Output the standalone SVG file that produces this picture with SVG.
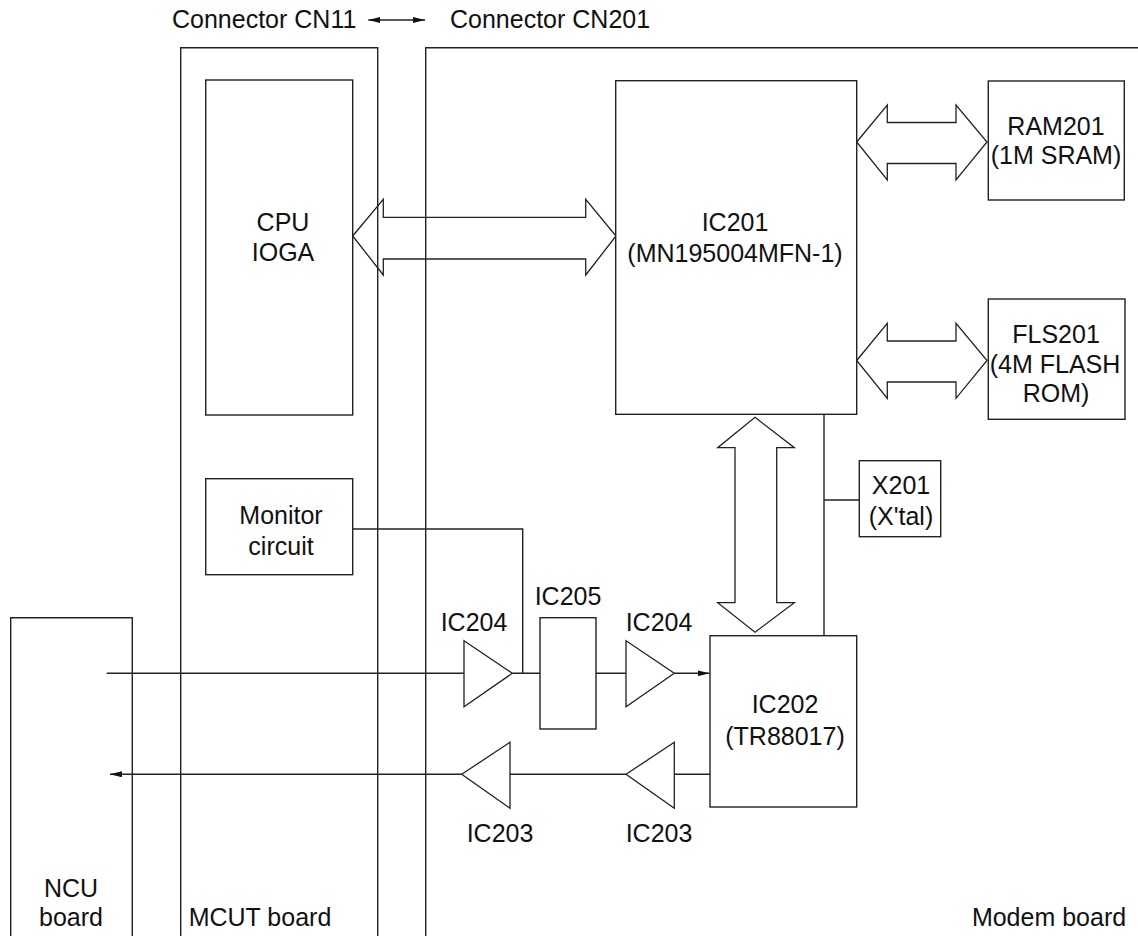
<svg xmlns="http://www.w3.org/2000/svg" width="1138" height="936" viewBox="0 0 1138 936">
<style>
.ln{fill:none;stroke:#222;stroke-width:1.4}
.bx{fill:#fff;stroke:#222;stroke-width:1.4}
.bus{fill:none;stroke:#222;stroke-width:1.3;stroke-linejoin:miter}
.amp{fill:#fff;stroke:#222;stroke-width:1.3}
text{font-family:"Liberation Sans",Arial,sans-serif;font-size:25px;fill:#111;text-anchor:middle}
.l{text-anchor:start}
</style>
<defs>
<marker id="ah" viewBox="0 0 12 6" refX="12" refY="3" markerWidth="12" markerHeight="6" orient="auto-start-reverse" markerUnits="userSpaceOnUse">
<path d="M0,0 L12,3 L0,6 z" fill="#111"/>
</marker>
</defs>
<rect width="1138" height="936" fill="#fff"/>

<g id="header">
<text class="l" x="172" y="28">Connector CN11</text>
<text class="l" x="450" y="28">Connector CN201</text>
</g>

<g id="ncu-board">
<path class="ln" d="M10.7,936 V617.7 H132.3 V936"/>
<text x="71" y="897">NCU</text>
<text x="71" y="926">board</text>
</g>
<g id="mcut-board">
<path class="ln" d="M180.7,936 V47.7 H377.7 V936"/>
<text x="260" y="926">MCUT board</text>
</g>
<g id="modem-board">
<path class="ln" d="M425.7,936 V47.7 H1138"/>
<text x="1049" y="926">Modem board</text>
</g>

<g id="connectors">
<line class="ln" x1="368.3" y1="20" x2="425" y2="20" marker-start="url(#ah)" marker-end="url(#ah)"/>
<polygon class="bus" points="352.7,236 383.3,199.3 383.3,217.3 585.7,217.3 585.7,199.3 616,236 585.7,275 585.7,259 383.3,259 383.3,275"/>
<polygon class="bus" points="856.7,142 887.3,105 887.3,122.5 956,122.5 956,105 987,142 956,180 956,163.5 887.3,163.5 887.3,180"/>
<polygon class="bus" points="856.7,360.5 887.3,323.3 887.3,341 956,341 956,323.3 987,360.5 956,398.3 956,382 887.3,382 887.3,398.3"/>
<polygon class="bus" points="755,417.3 794.3,447.7 776.7,447.7 776.7,602.7 794.3,602.7 755,632.3 717.7,602.7 735,602.7 735,447.7 717.7,447.7"/>
<path class="ln" d="M824,414.3 V635.7 M824,500 H859.3"/>
<path class="ln" d="M352.7,529 H522.7 V673.3"/>
<path class="ln" d="M106.7,673.3 H464 M512.3,673.3 H540 M596,673.3 H626"/>
<line class="ln" x1="674.3" y1="673.3" x2="709.5" y2="673.3" marker-end="url(#ah)"/>
<path class="ln" d="M710,774.3 H674.3 M626,774.3 H510"/>
<line class="ln" x1="461.7" y1="774.3" x2="110" y2="774.3" marker-end="url(#ah)"/>
</g>

<g id="cpu">
<rect class="bx" x="205.7" y="80" width="147" height="335"/>
<text x="283" y="231">CPU</text>
<text x="283" y="261">IOGA</text>
</g>
<g id="monitor">
<rect class="bx" x="205.7" y="478.7" width="147" height="96"/>
<text x="281" y="524">Monitor</text>
<text x="281" y="555">circuit</text>
</g>
<g id="ic201">
<rect class="bx" x="615.7" y="80.7" width="241" height="333.6"/>
<text x="735" y="231">IC201</text>
<text x="735" y="262">(MN195004MFN-1)</text>
</g>
<g id="ram201">
<rect class="bx" x="988.3" y="81" width="136" height="119"/>
<text x="1056" y="135">RAM201</text>
<text x="1056" y="164">(1M SRAM)</text>
</g>
<g id="fls201">
<rect class="bx" x="988.3" y="299" width="136.7" height="120.3"/>
<text x="1056" y="343">FLS201</text>
<text x="1055" y="373">(4M FLASH</text>
<text x="1056" y="402">ROM)</text>
</g>
<g id="x201">
<rect class="bx" x="859.3" y="460.7" width="81.4" height="76"/>
<text x="901" y="494">X201</text>
<text x="901" y="525">(X'tal)</text>
</g>
<g id="ic202">
<rect class="bx" x="710" y="635.7" width="146.7" height="171.3"/>
<text x="785" y="713">IC202</text>
<text x="785" y="745">(TR88017)</text>
</g>
<g id="ic205">
<rect class="bx" x="540" y="617.7" width="56" height="111.3"/>
<text x="568" y="605">IC205</text>
</g>
<g id="ic204a">
<polygon class="amp" points="464,640.7 512.3,673.3 464,706.7"/>
<text x="474" y="631">IC204</text>
</g>
<g id="ic204b">
<polygon class="amp" points="626,640.7 674.3,673.3 626,706.7"/>
<text x="659" y="631">IC204</text>
</g>
<g id="ic203a">
<polygon class="amp" points="510,742.3 461.7,774.3 510,808.3"/>
<text x="500" y="842">IC203</text>
</g>
<g id="ic203b">
<polygon class="amp" points="674.3,742.3 626,774.3 674.3,808.3"/>
<text x="659" y="842">IC203</text>
</g>
</svg>
